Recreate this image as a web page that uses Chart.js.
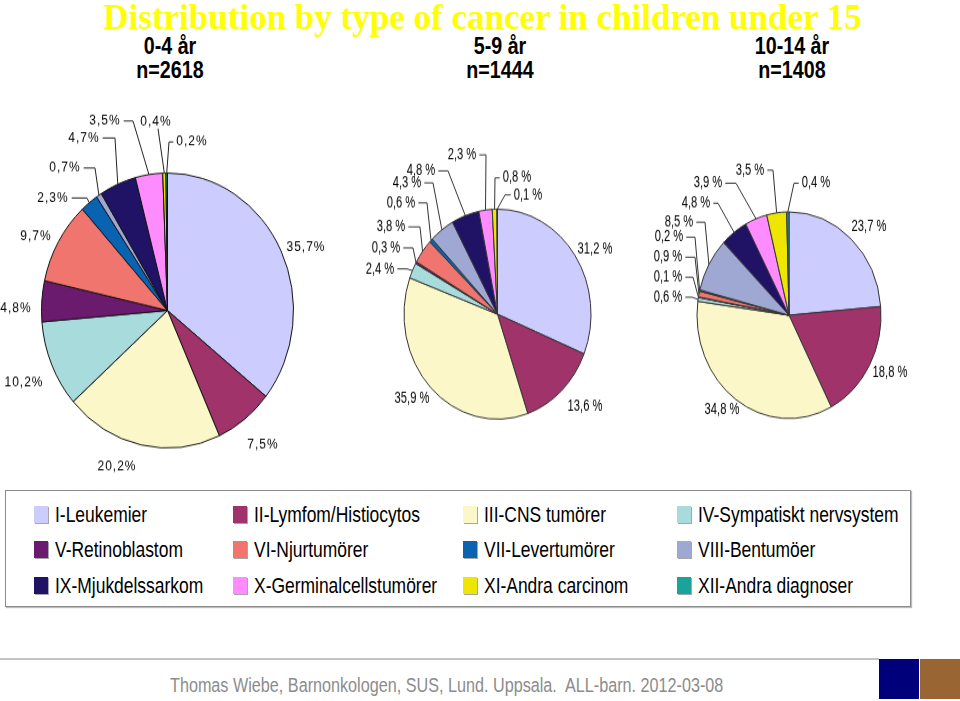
<!DOCTYPE html>
<html>
<head>
<meta charset="utf-8">
<script src="https://cdn.jsdelivr.net/npm/chart.js@4.4.0/dist/chart.umd.min.js"></script>
<style>
body{margin:0;width:960px;height:701px;background:#fff;position:relative;overflow:hidden;font-family:"Liberation Sans",Arial,sans-serif;}
.abs{position:absolute;}
#title{left:0;width:965px;top:0;text-align:center;font:bold 35px "Liberation Serif","Times New Roman",serif;color:#ffff00;line-height:36px;white-space:nowrap;}
.sub{top:34px;width:200px;text-align:center;font:bold 24px "Liberation Sans",Arial,sans-serif;line-height:24px;color:#000;transform:scaleX(0.82);transform-origin:50% 0;}
.wrap{transform-origin:0 0;}
#legend{left:5px;top:490px;width:904px;height:115px;border:1px solid #8c8c8c;box-shadow:1px 1px 1px #bbb;}
.sw{position:absolute;width:14px;height:17px;box-shadow:1px 1px 0 rgba(0,0,0,0.35);}
.lt{position:absolute;font:22.5px "Liberation Sans",Arial,sans-serif;line-height:24px;white-space:nowrap;color:#000;transform:scaleX(0.775);transform-origin:0 0;}
#rule{left:0;top:658px;width:879px;height:2px;background:#c4c4c4;}
#foot{left:170px;top:673px;font:19.5px "Liberation Sans",Arial,sans-serif;color:#8c8c8c;white-space:pre;line-height:24px;transform:scaleX(0.83);transform-origin:0 0;}
</style>
</head>
<body>
<div id="title" class="abs">Distribution by type of cancer in children under 15</div>
<div id="subs"></div>

<div class="abs wrap" id="w1" style="left:0px;top:95px;transform:scaleY(1.091)"><canvas id="pie1" width="335" height="353"></canvas></div>
<div class="abs wrap" id="w2" style="left:340px;top:130px;transform:scaleY(1.123)"><canvas id="pie2" width="315" height="267"></canvas></div>
<div class="abs wrap" id="w3" style="left:645px;top:140px;transform:scaleY(1.123)"><canvas id="pie3" width="288" height="258"></canvas></div>

<div id="legend" class="abs"></div>
<div id="rule" class="abs"></div>
<div class="abs" style="left:879px;top:659px;width:40px;height:40px;background:#00007a"></div>
<div class="abs" style="left:920px;top:659px;width:40px;height:40px;background:#996633"></div>
<div id="foot" class="abs">Thomas Wiebe, Barnonkologen, SUS, Lund. Uppsala.  ALL-barn. 2012-03-08</div>

<script>
// categories (diagnosis groups)
var categories = ['I-Leukemier', 'II-Lymfom/Histiocytos', 'III-CNS tumörer', 'IV-Sympatiskt nervsystem',
	'V-Retinoblastom', 'VI-Njurtumörer', 'VII-Levertumörer', 'VIII-Bentumöer',
	'IX-Mjukdelssarkom', 'X-Germinalcellstumörer', 'XI-Andra carcinom', 'XII-Andra diagnoser'];
var ageGroups = ['0-4 år', '5-9 år', '10-14 år'];
var groupSizes = [2618, 1444, 1408];

// percentages per age group, same order as categories
var pct0to4 = [35.7, 7.5, 20.2, 10.2, 4.8, 9.7, 2.3, 0.7, 4.7, 3.5, 0.4, 0.2];
var pct5to9 = [31.2, 13.6, 35.9, 2.4, 0.3, 3.8, 0.6, 4.3, 4.8, 2.3, 0.8, 0.1];
var pct10to14 = [23.7, 18.8, 34.8, 0.6, 0.1, 0.9, 0.2, 8.5, 4.8, 3.9, 3.5, 0.4];

var colors = ['#ccccff', '#a0346a', '#fcf7c8', '#a8dcdc', '#6a1b6e', '#f0756e',
	'#0a63b0', '#9fa7d3', '#201264', '#ff8cff', '#eee600', '#1aa39b'];

// label placement: [dx, dy, elbow dx] relative to pie centre (page px)
var layout1 = [[138.5, -63.5], [95.5, 134.5], [-50.5, 156.5], [-143.5, 72.5], [-151.5, -1.5], [-131.5, -73.5],
	[-114.5, -112.5, -80.5], [-102.5, -142.5, -72.5], [-83.5, -172.5, -52.5], [-62.5, -189.5, -34.5],
	[-11.5, -188.5, null], [24.5, -168.5, 1.5]];
var layout2 = [[97.5, -65.3], [87.5, 91.7], [-85.5, 84.7], [-117.5, -45.3, -90.5], [-111.5, -66.3, -84.5],
	[-106.5, -87.3, -77.5], [-96.5, -111.3, -70.5], [-90.5, -131.3, -64.5], [-76.5, -143.3, -49.5],
	[-35.5, -159.3, -11.5], [19.5, -136.3, -2.5], [30.5, -119.3, 7.5]];
var layout3 = [[80, -88], [101, 57], [-67, 95], [-121, -18, -97], [-121, -38, -96], [-121, -58, -94],
	[-120, -78, -94], [-110, -93, -84], [-93, -112, -71], [-81, -132, -53], [-39, -145, -16], [27, -132, 5]];

// subtitles
var subXs = [170, 500, 792];
var subs = document.getElementById('subs');
for (var i = 0; i < ageGroups.length; i++) {
	var d = document.createElement('div');
	d.className = 'abs sub';
	d.style.left = (subXs[i] - 100) + 'px';
	d.innerHTML = ageGroups[i] + '<br>n=' + groupSizes[i];
	subs.appendChild(d);
}

// legend box
var legend = document.getElementById('legend');
var colX = [28, 227, 457, 671];
var rowY = [12, 47, 83];
categories.forEach(function(name, i) {
	var c = i % 4, r = Math.floor(i / 4);
	var sw = document.createElement('div');
	sw.className = 'sw';
	sw.style.left = colX[c] + 'px';
	sw.style.top = (rowY[r] + 3) + 'px';
	sw.style.background = colors[i];
	legend.appendChild(sw);
	var t = document.createElement('div');
	t.className = 'lt';
	t.style.left = (colX[c] + 21) + 'px';
	t.style.top = rowY[r] + 'px';
	t.textContent = name;
	legend.appendChild(t);
});

//draws the percent labels with leader lines
var sliceLabels = {
	id: 'sliceLabels',
	afterDraw: function(chart, args, opts) {
		var ctx = chart.ctx;
		var arcs = chart.getDatasetMeta(0).data;
		var vals = chart.data.datasets[0].data;
		ctx.save();
		ctx.font = opts.font;
		ctx.letterSpacing = opts.spacing;
		ctx.fillStyle = '#000';
		ctx.strokeStyle = opts.lineColor;
		ctx.lineWidth = 1;
		ctx.textAlign = 'center';
		ctx.textBaseline = 'middle';
		arcs.forEach(function(arc, i) {
			var p = opts.layout[i];
			var lx = arc.x + p[0], ly = arc.y + p[1] / opts.scaleY;
			var txt = vals[i].toFixed(1).replace('.', ',') + opts.suffix;
			ctx.save();
			ctx.translate(lx, ly);
			ctx.scale(opts.narrow, 1);
			ctx.fillText(txt, 0, 0);
			ctx.restore();
			if (p[2] === undefined) return;
			var mid = (arc.startAngle + arc.endAngle) / 2;
			var ex = arc.x + Math.cos(mid) * arc.outerRadius;
			var ey = arc.y + Math.sin(mid) * arc.outerRadius;
			var w = ctx.measureText(txt).width * opts.narrow;
			ctx.beginPath();
			if (p[2] === null) {
				ctx.moveTo(lx + 2, ly + 6);
				ctx.lineTo(ex, ey);
			} else {
				var side = p[2] > p[0] ? 1 : -1;
				ctx.moveTo(lx + side * (w / 2 + 3), ly);
				ctx.lineTo(arc.x + p[2], ly);
				ctx.lineTo(ex, ey);
			}
			ctx.stroke();
		});
		ctx.restore();
	}
};

function makePie(id, values, radius, padTop, border, lbl) {
	var ctx = document.getElementById(id).getContext('2d');
	return new Chart(ctx, {
		type: 'pie',
		data: {
			labels: categories,
			datasets: [{
				data: values,
				backgroundColor: colors,
				borderColor: border,
				borderWidth: 1
			}]
		},
		options: {
			responsive: false,
			animation: false,
			radius: radius,
			layout: { padding: { top: padTop, bottom: 0, left: 0, right: 0 } },
			plugins: {
				legend: { display: false },
				tooltip: { enabled: false },
				sliceLabels: lbl
			}
		},
		plugins: [sliceLabels]
	});
}

window.myPie1 = makePie('pie1', pct0to4, 126, 42, '#111', {
	layout: layout1, scaleY: 1.091, suffix: '%', font: '12px "Liberation Sans", Arial, sans-serif',
	spacing: '1px', lineColor: '#222', narrow: 1
});
window.myPie2 = makePie('pie2', pct5to9, 93.5, 61, '#333', {
	layout: layout2, scaleY: 1.123, suffix: ' %', font: '14px "Liberation Sans", Arial, sans-serif',
	spacing: '0px', lineColor: '#333', narrow: 0.8
});
window.myPie3 = makePie('pie3', pct10to14, 92, 54, '#333', {
	layout: layout3, scaleY: 1.123, suffix: ' %', font: '14px "Liberation Sans", Arial, sans-serif',
	spacing: '0px', lineColor: '#333', narrow: 0.8
});
</script>
</body>
</html>
